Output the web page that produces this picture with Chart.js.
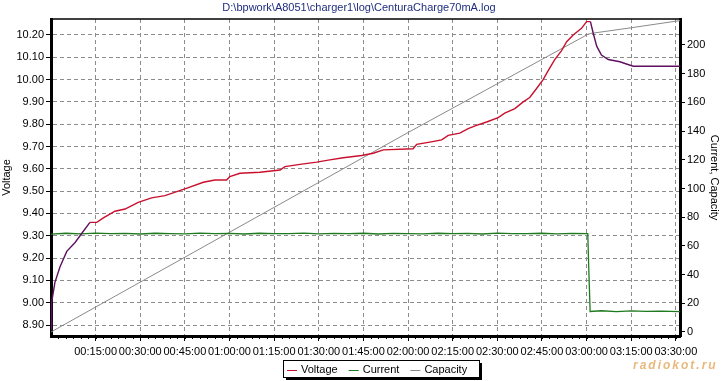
<!DOCTYPE html>
<html>
<head>
<meta charset="utf-8">
<script src="https://cdn.jsdelivr.net/npm/chart.js@4.4.1/dist/chart.umd.min.js"></script>
<style>
html, body { margin: 0; padding: 0; background: #fff; }
canvas { display: block; }
</style>
</head>
<body>
<canvas id="chargeChart" width="721" height="381"></canvas>
<script>
// minutes since start of charge
const voltTime = [0, 0.2, 1.3, 3.0, 5.3, 8.1, 10.3, 13.1, 15.4, 17.6, 21.5, 24.9, 29.3, 33.8, 38.3, 45, 51.2, 55.1, 59.0, 60.1, 63.5, 70.2, 77, 78.6, 83.7, 89.3, 93.7, 98.2, 104.4, 108.3, 111.7, 121.7, 122.9, 127.3, 131.3, 133.5, 137.4, 140.2, 143, 146.4, 150.3, 152.5, 155.9, 158.7, 160.9, 163.2, 165.4, 167.1, 169.3, 171.6, 173.3, 175.5, 178.3, 180, 181.3, 182.2, 183.4, 185.0, 187.3, 191.2, 193.4, 195.7, 211.4];
const voltValue = [8.88, 9.00, 9.09, 9.16, 9.23, 9.27, 9.31, 9.36, 9.36, 9.38, 9.41, 9.42, 9.45, 9.47, 9.48, 9.51, 9.54, 9.55, 9.55, 9.565, 9.58, 9.585, 9.595, 9.61, 9.62, 9.63, 9.64, 9.65, 9.66, 9.67, 9.685, 9.69, 9.71, 9.72, 9.73, 9.75, 9.76, 9.78, 9.795, 9.81, 9.83, 9.85, 9.87, 9.90, 9.92, 9.96, 10.00, 10.04, 10.09, 10.13, 10.17, 10.20, 10.23, 10.26, 10.26, 10.21, 10.15, 10.11, 10.09, 10.08, 10.07, 10.06, 10.06];

const currentTime = [0, 5, 10, 15, 20, 25, 30, 35, 40, 45, 50, 55, 60, 65, 70, 75, 80, 85, 90, 95, 100, 105, 110, 115, 120, 125, 130, 135, 140, 145, 150, 155, 160, 165, 170, 175, 180.4, 180.8, 181.2, 185, 190, 195, 200, 205, 211.4];
const currentValue = [68.2, 68.8, 68.4, 68.9, 68.5, 68.7, 68.3, 68.8, 68.6, 68.4, 68.9, 68.5, 68.7, 68.3, 68.8, 68.5, 68.6, 68.9, 68.4, 68.7, 68.5, 68.8, 68.3, 68.7, 68.6, 68.4, 68.8, 68.5, 68.7, 68.3, 68.9, 68.5, 68.6, 68.8, 68.4, 68.7, 68.5, 40, 14.3, 14.8, 14.2, 14.7, 14.3, 14.6, 14.2];

const capTime = [0, 60, 120, 180.5, 181.3, 195, 211.4];
const capValue = [0, 69.5, 139, 207.5, 208, 212, 217];

const voltTicks = [8.9, 9.0, 9.1, 9.2, 9.3, 9.4, 9.5, 9.6, 9.7, 9.8, 9.9, 10.0, 10.1, 10.2];
const sideTicks = [0, 20, 40, 60, 80, 100, 120, 140, 160, 180, 200];
const timeTicks = [15, 30, 45, 60, 75, 90, 105, 120, 135, 150, 165, 180, 195, 210];
const timeLabels = ['00:15:00', '00:30:00', '00:45:00', '01:00:00', '01:15:00', '01:30:00', '01:45:00',
    '02:00:00', '02:15:00', '02:30:00', '02:45:00', '03:00:00', '03:15:00', '03:30:00'];

const FONT = "'Liberation Sans', Arial, sans-serif";
Chart.defaults.font.family = FONT;
Chart.defaults.font.size = 11;
Chart.defaults.color = '#000';

const RED = '#c8102e';
const PURPLE = '#5e1060';
const GREEN = '#1e7a1e';
const GRAY = '#8a8a8a';

function pts(xs, ys) {
    return xs.map((x, i) => ({ x: x, y: ys[i] }));
}

function gridOpts(onArea) {
    return {
        color: '#8c8c8c',
        lineWidth: 1,
        drawOnChartArea: onArea,
        tickLength: 5,
        tickColor: '#000',
        tickWidth: 1,
        tickBorderDash: []
    };
}

const decor = {
    id: 'decor',
    beforeDraw(chart) {
        const ctx = chart.ctx;
        ctx.save();
        ctx.fillStyle = '#fff';
        ctx.fillRect(0, 0, chart.width, chart.height);
        ctx.restore();
    },
    afterDraw(chart) {
        const ctx = chart.ctx;
        const a = chart.chartArea;
        const xs = chart.scales.x;
        ctx.save();

        // top frame line
        ctx.strokeStyle = '#000';
        ctx.lineWidth = 1.5;
        ctx.beginPath();
        ctx.moveTo(a.left, a.top);
        ctx.lineTo(a.right, a.top);
        ctx.stroke();

        // minor ticks on time axis
        ctx.lineWidth = 1;
        ctx.beginPath();
        for (let m = 2.5; m < xs.max; m += 2.5) {
            const px = Math.round(xs.getPixelForValue(m)) + 0.5;
            ctx.moveTo(px, a.bottom);
            ctx.lineTo(px, a.bottom + 3);
        }
        ctx.stroke();

        // file name title
        ctx.font = '11px ' + FONT;
        ctx.fillStyle = '#1f2d80';
        ctx.textAlign = 'center';
        ctx.textBaseline = 'middle';
        ctx.fillText('D:\\bpwork\\A8051\\charger1\\log\\CenturaCharge70mA.log', 359, 8);

        // legend box with shadow
        const bx = 283, by = 360, bw = 196, bh = 17;
        ctx.fillStyle = '#000';
        ctx.fillRect(bx + 3, by + 3, bw, bh);
        ctx.fillStyle = '#fff';
        ctx.fillRect(bx, by, bw, bh);
        ctx.strokeStyle = '#000';
        ctx.lineWidth = 1;
        ctx.strokeRect(bx + 0.5, by + 0.5, bw, bh);

        ctx.textAlign = 'left';
        ctx.fillStyle = '#000';
        let lx = bx + 4;
        const ly = by + bh / 2 + 1;
        chart.data.datasets.forEach(ds => {
            ctx.strokeStyle = ds.legendColor;
            ctx.beginPath();
            ctx.moveTo(lx, Math.round(ly) + 0.5);
            ctx.lineTo(lx + 10, Math.round(ly) + 0.5);
            ctx.stroke();
            ctx.fillStyle = '#000';
            ctx.fillText(ds.label, lx + 14, ly);
            lx += 14 + ctx.measureText(ds.label).width + 11;
        });

        // site watermark
        ctx.font = 'italic bold 12px ' + FONT;
        ctx.letterSpacing = '2px';
        ctx.fillStyle = 'rgba(226, 160, 80, 0.75)';
        ctx.fillText('radiokot.ru', 633, 366);

        ctx.restore();
    }
};

new Chart(document.getElementById('chargeChart'), {
    type: 'line',
    data: {
        datasets: [{
            label: 'Voltage',
            data: pts(voltTime, voltValue),
            yAxisID: 'y',
            borderColor: RED,
            legendColor: RED,
            borderWidth: 1.4,
            segment: {
                borderColor: c => (c.p0.parsed.x < 11.5 || c.p0.parsed.x >= 181) ? PURPLE : RED
            }
        }, {
            label: 'Current',
            data: pts(currentTime, currentValue),
            yAxisID: 'y2',
            borderColor: GREEN,
            legendColor: GREEN,
            borderWidth: 1.3
        }, {
            label: 'Capacity',
            data: pts(capTime, capValue),
            yAxisID: 'y2',
            borderColor: GRAY,
            legendColor: GRAY,
            borderWidth: 1
        }]
    },
    options: {
        responsive: false,
        animation: false,
        layout: { padding: { top: 19, left: 0, right: 0, bottom: 0 } },
        elements: { point: { radius: 0 }, line: { tension: 0 } },
        plugins: { legend: { display: false }, title: { display: false }, tooltip: { enabled: false } },
        scales: {
            x: {
                type: 'linear',
                min: 0,
                max: 211.4,
                afterBuildTicks: s => { s.ticks = timeTicks.map(v => ({ value: v })); },
                afterFit: s => { s.height = 45; },
                ticks: {
                    autoSkip: false,
                    maxRotation: 0,
                    minRotation: 0,
                    padding: 4,
                    callback: v => timeLabels[timeTicks.indexOf(v)]
                },
                grid: gridOpts(true),
                border: { color: '#000', width: 3, dash: [4, 3] }
            },
            y: {
                position: 'left',
                min: 8.8507,
                max: 10.2717,
                afterBuildTicks: s => { s.ticks = voltTicks.map(v => ({ value: v })); },
                afterFit: s => { s.width = 51; },
                ticks: { padding: 2, callback: v => v.toFixed(2) },
                title: { display: true, text: 'Voltage', padding: { top: 0, bottom: 0 } },
                grid: gridOpts(true),
                border: { color: '#000', width: 3, dash: [4, 3] }
            },
            y2: {
                position: 'right',
                min: -2.79,
                max: 218.1,
                afterBuildTicks: s => { s.ticks = sideTicks.map(v => ({ value: v })); },
                afterFit: s => { s.width = 41; },
                ticks: { padding: 2 },
                title: { display: true, text: 'Current, Capacity', padding: { top: 0, bottom: 0 } },
                grid: gridOpts(false),
                border: { color: '#000', width: 3 }
            }
        }
    },
    plugins: [decor]
});
</script>
</body>
</html>
